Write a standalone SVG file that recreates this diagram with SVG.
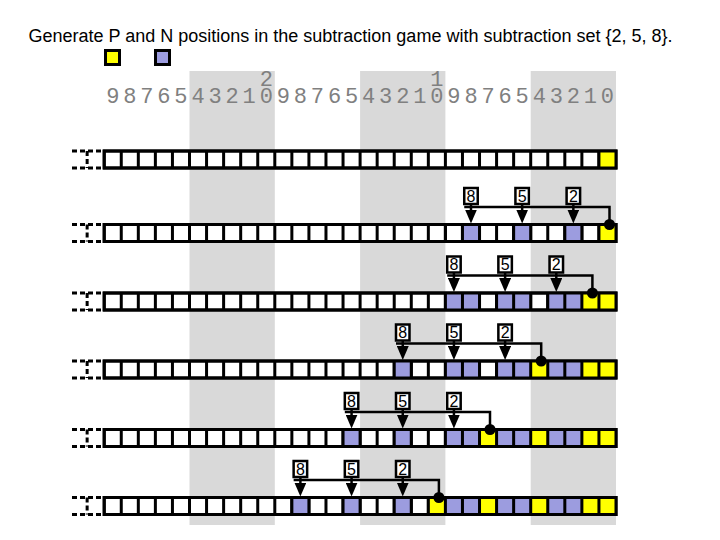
<svg xmlns="http://www.w3.org/2000/svg" xmlns:xlink="http://www.w3.org/1999/xlink" width="720" height="540" viewBox="0 0 720 540">
<style>
.title{font-family:"Liberation Sans",Arial,sans-serif;font-size:18px;fill:#000}
.num{font-family:"Liberation Mono","Courier New",monospace;font-size:22px;fill:#808080}
.band{fill:#d9d9d9}
.grid{fill:none;stroke:#000;stroke-width:3}
.dash{fill:none;stroke:#000;stroke-width:3;stroke-dasharray:5,3}
.P{fill:#ffff00}
.N{fill:#9c9cdf}
.box{fill:#fff;stroke:#000;stroke-width:2.5}
.lab{font-family:"Liberation Sans",Arial,sans-serif;font-size:16px;fill:#000;text-anchor:middle}
.con{fill:none;stroke:#000;stroke-width:2.5}
.dot{fill:#000}
.leg{stroke:#000;stroke-width:3}
</style>
<defs>
<g id="grid">
<rect x="104.2" y="0" width="511.8" height="17" fill="#fff"/>
<path class="grid" d="M104.2,0H616V17H104.2Z M121.26,0V17 M138.32,0V17 M155.38,0V17 M172.44,0V17 M189.5,0V17 M206.56,0V17 M223.62,0V17 M240.68,0V17 M257.74,0V17 M274.8,0V17 M291.86,0V17 M308.92,0V17 M325.98,0V17 M343.04,0V17 M360.1,0V17 M377.16,0V17 M394.22,0V17 M411.28,0V17 M428.34,0V17 M445.4,0V17 M462.46,0V17 M479.52,0V17 M496.58,0V17 M513.64,0V17 M530.7,0V17 M547.76,0V17 M564.82,0V17 M581.88,0V17 M598.94,0V17"/>
<path class="dash" d="M72,0H104.2 M72,17H104.2 M87.14,0V17"/>
</g>
<marker id="ah" markerUnits="userSpaceOnUse" markerWidth="14" markerHeight="12" refX="7" refY="6" orient="auto" viewBox="0 0 14 12">
<path d="M0,0L14,6L0,12Z" fill="#000"/>
</marker>
</defs>
<rect width="720" height="540" fill="#fff"/>
<g id="bands">
<rect class="band" x="189.5" y="71" width="85.3" height="454"/>
<rect class="band" x="360.1" y="71" width="85.3" height="454"/>
<rect class="band" x="530.7" y="71" width="85.3" height="454"/>
</g>
<text class="title" x="350.5" y="42" text-anchor="middle">Generate P and N positions in the subtraction game with subtraction set {2, 5, 8}.</text>
<g id="legend">
<rect class="leg P" x="105.5" y="50.5" width="14" height="14"/>
<rect class="leg N" x="155.5" y="50.5" width="14" height="14"/>
</g>
<g id="numbers">
<text class="num" text-anchor="middle" x="266.27" y="86">2</text>
<text class="num" text-anchor="middle" x="436.87" y="86">1</text>
<text class="num" text-anchor="middle" y="103" x="112.73 129.79 146.85 163.91 180.97 198.03 215.09 232.15 249.21 266.27 283.33 300.39 317.45 334.51 351.57 368.63 385.69 402.75 419.81 436.87 453.93 470.99 488.05 505.11 522.17 539.23 556.29 573.35 590.41 607.47">987654321098765432109876543210</text>
</g>
<g id="row1" transform="translate(0,151)">
<use xlink:href="#grid"/>
<rect class="P" x="598.94" y="0" width="17.06" height="17"/>
<path class="grid" d="M104.2,0H616V17H104.2Z M598.94,0V17"/>
</g>
<g id="row2" transform="translate(0,224.5)">
<use xlink:href="#grid"/>
<rect class="P" x="598.94" y="0" width="17.06" height="17"/>
<rect class="N" x="564.82" y="0" width="17.06" height="17"/>
<rect class="N" x="513.64" y="0" width="17.06" height="17"/>
<rect class="N" x="462.46" y="0" width="17.06" height="17"/>
<path class="grid" d="M104.2,0H616V17H104.2Z M445.4,0V17 M462.46,0V17 M479.52,0V17 M513.64,0V17 M530.7,0V17 M564.82,0V17 M581.88,0V17 M598.94,0V17"/>
<rect class="box" x="464.24" y="-36.5" width="13.5" height="16"/><text class="lab" x="470.99" y="-22.8">8</text>
<rect class="box" x="515.42" y="-36.5" width="13.5" height="16"/><text class="lab" x="522.17" y="-22.8">5</text>
<rect class="box" x="566.6" y="-36.5" width="13.5" height="16"/><text class="lab" x="573.35" y="-22.8">2</text>
</g>
<g id="row3" transform="translate(0,293)">
<use xlink:href="#grid"/>
<rect class="P" x="581.88" y="0" width="34.12" height="17"/>
<rect class="N" x="547.76" y="0" width="34.12" height="17"/>
<rect class="N" x="496.58" y="0" width="34.12" height="17"/>
<rect class="N" x="445.4" y="0" width="34.12" height="17"/>
<path class="grid" d="M104.2,0H616V17H104.2Z M445.4,0V17 M462.46,0V17 M479.52,0V17 M496.58,0V17 M513.64,0V17 M530.7,0V17 M547.76,0V17 M564.82,0V17 M581.88,0V17 M598.94,0V17"/>
<rect class="box" x="447.18" y="-36.5" width="13.5" height="16"/><text class="lab" x="453.93" y="-22.8">8</text>
<rect class="box" x="498.36" y="-36.5" width="13.5" height="16"/><text class="lab" x="505.11" y="-22.8">5</text>
<rect class="box" x="549.54" y="-36.5" width="13.5" height="16"/><text class="lab" x="556.29" y="-22.8">2</text>
</g>
<g id="row4" transform="translate(0,361)">
<use xlink:href="#grid"/>
<rect class="P" x="581.88" y="0" width="34.12" height="17"/>
<rect class="P" x="530.7" y="0" width="17.06" height="17"/>
<rect class="N" x="547.76" y="0" width="34.12" height="17"/>
<rect class="N" x="496.58" y="0" width="34.12" height="17"/>
<rect class="N" x="445.4" y="0" width="34.12" height="17"/>
<rect class="N" x="394.22" y="0" width="17.06" height="17"/>
<path class="grid" d="M104.2,0H616V17H104.2Z M394.22,0V17 M411.28,0V17 M445.4,0V17 M462.46,0V17 M479.52,0V17 M496.58,0V17 M513.64,0V17 M530.7,0V17 M547.76,0V17 M564.82,0V17 M581.88,0V17 M598.94,0V17"/>
<rect class="box" x="396" y="-36.5" width="13.5" height="16"/><text class="lab" x="402.75" y="-22.8">8</text>
<rect class="box" x="447.18" y="-36.5" width="13.5" height="16"/><text class="lab" x="453.93" y="-22.8">5</text>
<rect class="box" x="498.36" y="-36.5" width="13.5" height="16"/><text class="lab" x="505.11" y="-22.8">2</text>
</g>
<g id="row5" transform="translate(0,429.5)">
<use xlink:href="#grid"/>
<rect class="P" x="581.88" y="0" width="34.12" height="17"/>
<rect class="P" x="530.7" y="0" width="17.06" height="17"/>
<rect class="P" x="479.52" y="0" width="17.06" height="17"/>
<rect class="N" x="547.76" y="0" width="34.12" height="17"/>
<rect class="N" x="496.58" y="0" width="34.12" height="17"/>
<rect class="N" x="445.4" y="0" width="34.12" height="17"/>
<rect class="N" x="394.22" y="0" width="17.06" height="17"/>
<rect class="N" x="343.04" y="0" width="17.06" height="17"/>
<path class="grid" d="M104.2,0H616V17H104.2Z M343.04,0V17 M360.1,0V17 M394.22,0V17 M411.28,0V17 M445.4,0V17 M462.46,0V17 M479.52,0V17 M496.58,0V17 M513.64,0V17 M530.7,0V17 M547.76,0V17 M564.82,0V17 M581.88,0V17 M598.94,0V17"/>
<rect class="box" x="344.82" y="-36.5" width="13.5" height="16"/><text class="lab" x="351.57" y="-22.8">8</text>
<rect class="box" x="396" y="-36.5" width="13.5" height="16"/><text class="lab" x="402.75" y="-22.8">5</text>
<rect class="box" x="447.18" y="-36.5" width="13.5" height="16"/><text class="lab" x="453.93" y="-22.8">2</text>
</g>
<g id="row6" transform="translate(0,497.5)">
<use xlink:href="#grid"/>
<rect class="P" x="581.88" y="0" width="34.12" height="17"/>
<rect class="P" x="530.7" y="0" width="17.06" height="17"/>
<rect class="P" x="479.52" y="0" width="17.06" height="17"/>
<rect class="P" x="428.34" y="0" width="17.06" height="17"/>
<rect class="N" x="547.76" y="0" width="34.12" height="17"/>
<rect class="N" x="496.58" y="0" width="34.12" height="17"/>
<rect class="N" x="445.4" y="0" width="34.12" height="17"/>
<rect class="N" x="394.22" y="0" width="17.06" height="17"/>
<rect class="N" x="343.04" y="0" width="17.06" height="17"/>
<rect class="N" x="291.86" y="0" width="17.06" height="17"/>
<path class="grid" d="M104.2,0H616V17H104.2Z M291.86,0V17 M308.92,0V17 M343.04,0V17 M360.1,0V17 M394.22,0V17 M411.28,0V17 M428.34,0V17 M445.4,0V17 M462.46,0V17 M479.52,0V17 M496.58,0V17 M513.64,0V17 M530.7,0V17 M547.76,0V17 M564.82,0V17 M581.88,0V17 M598.94,0V17"/>
<rect class="box" x="293.64" y="-36.5" width="13.5" height="16"/><text class="lab" x="300.39" y="-22.8">8</text>
<rect class="box" x="344.82" y="-36.5" width="13.5" height="16"/><text class="lab" x="351.57" y="-22.8">5</text>
<rect class="box" x="396" y="-36.5" width="13.5" height="16"/><text class="lab" x="402.75" y="-22.8">2</text>
</g>
<g id="connectors">
<g transform="translate(0,224.5)">
<path class="con" d="M464.24,-17.5H609.5V0"/>
<path class="con" marker-end="url(#ah)" d="M470.99,-20.5V-8"/>
<path class="con" marker-end="url(#ah)" d="M522.17,-20.5V-8"/>
<path class="con" marker-end="url(#ah)" d="M573.35,-20.5V-8"/>
<circle class="dot" cx="609.5" cy="0" r="5.5"/>
</g>
<g transform="translate(0,293)">
<path class="con" d="M447.18,-17.5H592.4V0"/>
<path class="con" marker-end="url(#ah)" d="M453.93,-20.5V-8"/>
<path class="con" marker-end="url(#ah)" d="M505.11,-20.5V-8"/>
<path class="con" marker-end="url(#ah)" d="M556.29,-20.5V-8"/>
<circle class="dot" cx="592.4" cy="0" r="5.5"/>
</g>
<g transform="translate(0,361)">
<path class="con" d="M396,-17.5H541.2V0"/>
<path class="con" marker-end="url(#ah)" d="M402.75,-20.5V-8"/>
<path class="con" marker-end="url(#ah)" d="M453.93,-20.5V-8"/>
<path class="con" marker-end="url(#ah)" d="M505.11,-20.5V-8"/>
<circle class="dot" cx="541.2" cy="0" r="5.5"/>
</g>
<g transform="translate(0,429.5)">
<path class="con" d="M344.82,-17.5H490V0"/>
<path class="con" marker-end="url(#ah)" d="M351.57,-20.5V-8"/>
<path class="con" marker-end="url(#ah)" d="M402.75,-20.5V-8"/>
<path class="con" marker-end="url(#ah)" d="M453.93,-20.5V-8"/>
<circle class="dot" cx="490" cy="0" r="5.5"/>
</g>
<g transform="translate(0,497.5)">
<path class="con" d="M293.64,-17.5H438.9V0"/>
<path class="con" marker-end="url(#ah)" d="M300.39,-20.5V-8"/>
<path class="con" marker-end="url(#ah)" d="M351.57,-20.5V-8"/>
<path class="con" marker-end="url(#ah)" d="M402.75,-20.5V-8"/>
<circle class="dot" cx="438.9" cy="0" r="5.5"/>
</g>
</g>
</svg>
